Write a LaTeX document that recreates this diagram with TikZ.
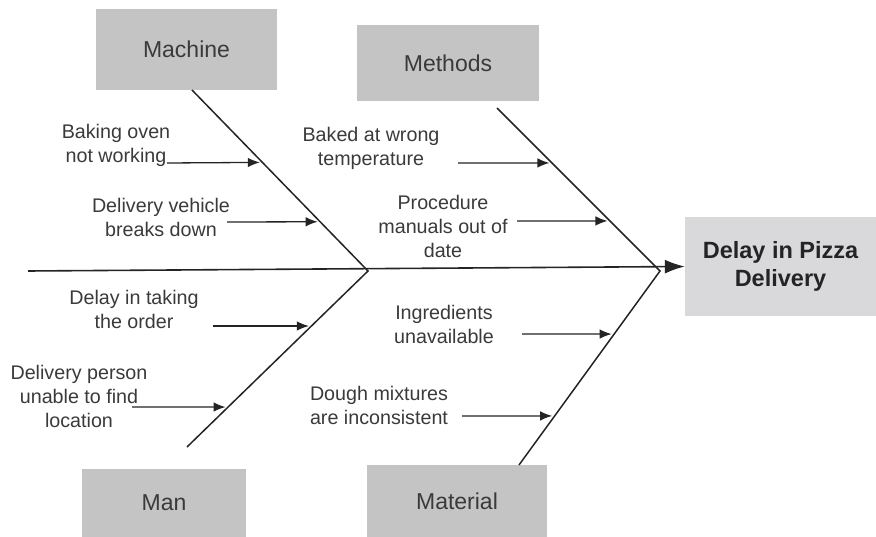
\documentclass[tikz,border=0pt]{standalone}
\usepackage{fontspec}
\setmainfont{Liberation Sans}
\usetikzlibrary{arrows.meta}
\definecolor{boxgray}{RGB}{196,196,196}
\definecolor{headgray}{RGB}{217,217,219}
\definecolor{ink}{RGB}{36,36,36}
\definecolor{txt}{RGB}{58,58,58}
\begin{document}
\begin{tikzpicture}[x=1pt,y=-1pt,
  catbox/.style={fill=boxgray, draw=none, inner sep=0pt, text=txt,
    font=\fontsize{23}{28}\selectfont},
  headbox/.style={fill=headgray, draw=none, inner sep=0pt, text=ink, align=center,
    font=\bfseries\fontsize{23.5}{28}\selectfont},
  cause/.style={text=txt, align=center, inner sep=0pt,
    font=\fontsize{19.7}{24}\selectfont},
  bone/.style={draw=ink, line width=1.5pt},
  causearrow/.style={draw=ink, line width=1.3pt, shorten >=2.5pt,
    -{Latex[length=12pt,width=9.5pt]}},
  spinearrow/.style={draw=ink, line width=1.6pt,
    -{Latex[length=20pt,width=14pt]}}
]
\useasboundingbox (0,0) rectangle (876,537);

% category boxes and the effect
\node[catbox, minimum width=181pt, minimum height=81pt] (machine) at (186.5,49.5) {Machine};
\node[catbox, minimum width=182pt, minimum height=76pt] (methods) at (448,63) {Methods};
\node[catbox, minimum width=164pt, minimum height=68pt] (man) at (164,503) {Man};
\node[catbox, minimum width=180pt, minimum height=72pt] (material) at (457,501) {Material};
\node[headbox, minimum width=191pt, minimum height=99pt] (result) at (780.5,266.5) {Delay in Pizza\\Delivery};

% spine
\coordinate (tail) at (28,271);
\draw[spinearrow] (tail) -- (result.west);

% bones
\coordinate (j1) at (368,271);
\coordinate (j2) at (660,271);
\coordinate (machtop) at (192,90);
\coordinate (methtop) at (497,108);
\coordinate (manend) at (187,447);
\coordinate (matend) at (519,465);
\draw[bone] (machtop) -- (j1) -- (manend);
\draw[bone] (methtop) -- (j2) -- (matend);

% points where the causes meet the bones
\path (machtop) -- (j1) coordinate[pos=0.4] (a1) coordinate[pos=0.728] (a2);
\path (methtop) -- (j2) coordinate[pos=0.337] (b1) coordinate[pos=0.693] (b2);
\path (j1) -- (manend) coordinate[pos=0.3125] (c1) coordinate[pos=0.773] (c2);
\path (j2) -- (matend) coordinate[pos=0.325] (d1) coordinate[pos=0.747] (d2);

% cause labels
\node[cause] (ta1) at (116,145) {Baking oven\\not working};
\node[cause] (ta2) at (161,217) {Delivery vehicle\\breaks down};
\node[cause] (tb1) at (371,148.5) {Baked at wrong\\temperature};
\node[cause] (tb2) at (443,226) {Procedure\\manuals out of\\date};
\node[cause] (tc1) at (134,309) {Delay in taking\\the order};
\node[cause] (tc2) at (79,396) {Delivery person\\unable to find\\location};
\node[cause] (td1) at (444,324) {Ingredients\\unavailable};
\node[cause] (td2) at (379,405) {Dough mixtures\\are inconsistent};

% cause arrows
\coordinate (sa1) at (167,163);
\coordinate (sa2) at (227,222);
\coordinate (sb1) at (458,163);
\coordinate (sb2) at (517,221);
\coordinate (sc1) at (213,326);
\coordinate (sc2) at (132,407);
\coordinate (sd1) at (522,334);
\coordinate (sd2) at (462,416);
\draw[causearrow] (sa1) -- (a1);
\draw[causearrow] (sa2) -- (a2);
\draw[causearrow] (sb1) -- (b1);
\draw[causearrow] (sb2) -- (b2);
\draw[causearrow] (sc1) -- (c1);
\draw[causearrow] (sc2) -- (c2);
\draw[causearrow] (sd1) -- (d1);
\draw[causearrow] (sd2) -- (d2);
\end{tikzpicture}
\end{document}
